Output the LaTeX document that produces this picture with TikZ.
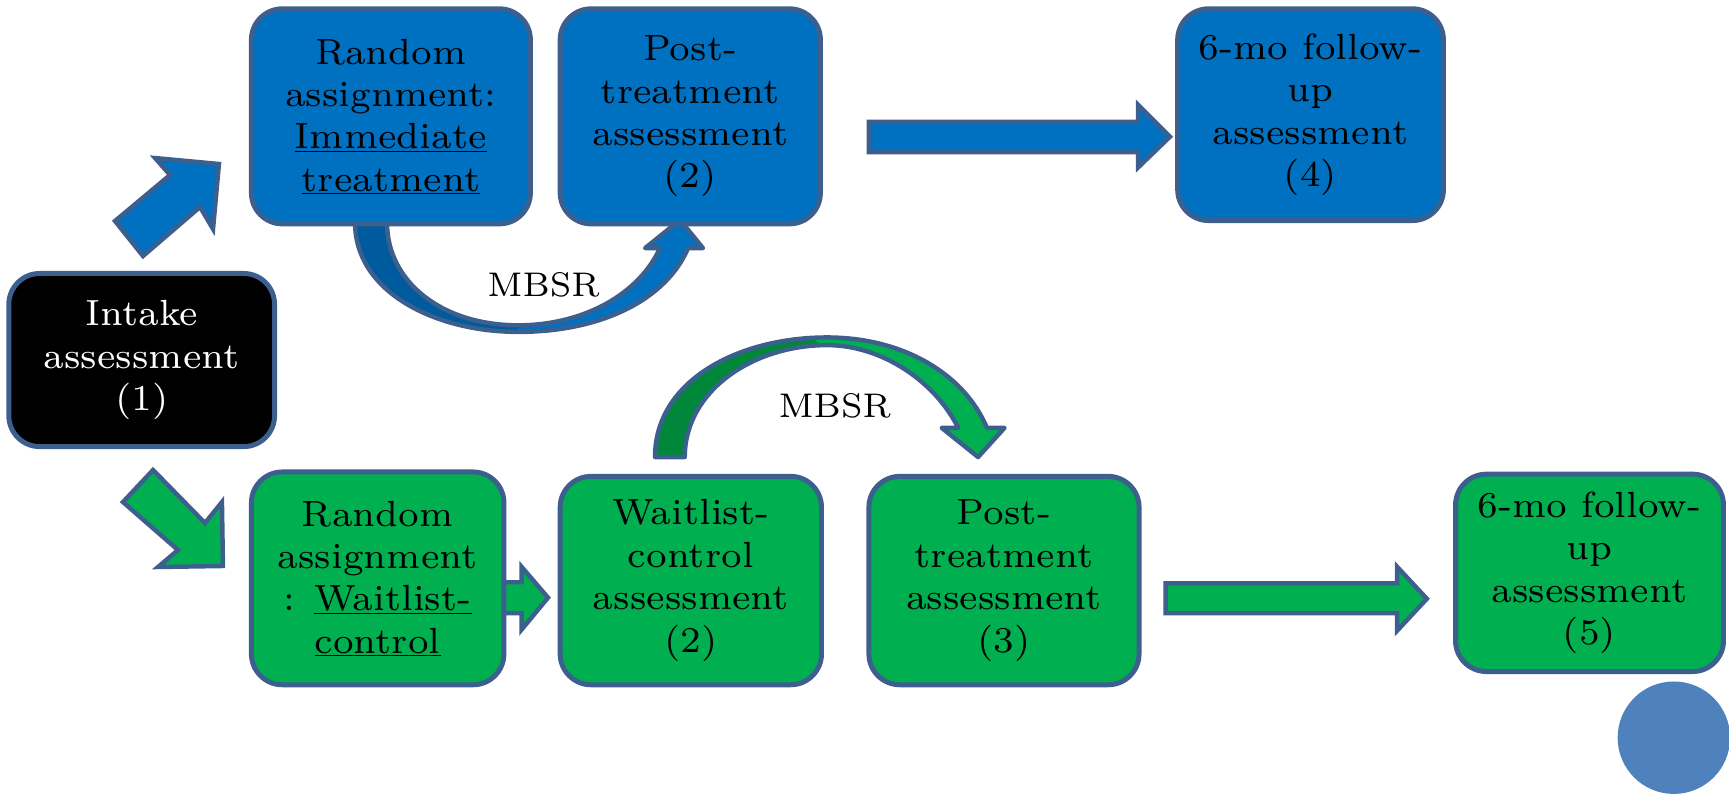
\documentclass[tikz,border=0pt]{standalone}
\usepackage{fontspec}
\setmainfont{lmroman7-regular.otf}
\usetikzlibrary{calc}
\definecolor{edgeblue}{HTML}{3C5F8E}
\definecolor{fillblue}{HTML}{0070C0}
\definecolor{shadeblue}{HTML}{005A9E}
\definecolor{fillgreen}{HTML}{00B050}
\definecolor{shadegreen}{HTML}{00873A}
\definecolor{dotblue}{HTML}{4F81BD}
\begin{document}
\begin{tikzpicture}[x=1pt,y=-1pt,
  stage/.style={draw=edgeblue, line width=4.5pt, rounded corners=28pt,
    align=center, inner sep=0pt, font=\fontsize{33}{38.5}\selectfont},
  bluestage/.style={stage, fill=fillblue},
  greenstage/.style={stage, fill=fillgreen},
  blockarrow/.style={draw=edgeblue, line width=4pt, line join=miter},
  bentarrow/.style={draw=edgeblue, line width=4pt, line join=round},
  lbl/.style={font=\fontsize{31}{36}\selectfont}
]
\useasboundingbox (0,0) rectangle (1568,721);

% outline of the U-shaped MBSR arrow (immediate-treatment arm)
\def\upturn{(322,196) -- (322,202)
  .. controls (322,265) and (395,301) .. (470,301)
  .. controls (545,301) and (604,272) .. (624,225)
  -- (637.5,225) -- (616.7,199.5) -- (585,225) -- (598.5,225)
  .. controls (580,266) and (530,295) .. (470,295)
  .. controls (400,295) and (351,255) .. (351,202) -- (351,196) -- cycle}
\fill[fillblue] \upturn;
\begin{scope}
  \clip \upturn;
  \fill[shadeblue] (300,190) -- (300,315) -- (440,315) -- (492,285) -- (492,190) -- cycle;
\end{scope}
\draw[bentarrow] \upturn;
\node[lbl] (mbsrA) at (493,258) {MBSR};

% outline of the arched MBSR arrow (waitlist arm)
\def\overarch{(594,414.5)
  .. controls (594,345) and (670,306) .. (750,306)
  .. controls (820,306) and (875,340) .. (895,388)
  -- (911,388) -- (887,414.5) -- (854,388) -- (869,388)
  .. controls (848,346) and (800,313) .. (750,313)
  .. controls (682,313) and (621,355) .. (621,414.5) -- cycle}
\fill[fillgreen] \overarch;
\begin{scope}
  \clip \overarch;
  \fill[shadegreen] (580,425) -- (580,290) -- (716,290) -- (760,325) -- (760,425) -- cycle;
\end{scope}
\draw[bentarrow] \overarch;
\node[lbl] (mbsrB) at (757,368) {MBSR};

% straight block arrows
\draw[blockarrow, fill=fillblue] (104.3,200.4) -- (154.2,158.7) -- (140.6,143.3)
  -- (198.6,148.7) -- (193.2,207.7) -- (181.4,187.7) -- (129.7,232.2) -- cycle;
\draw[blockarrow, fill=fillgreen] (138.8,426.2) -- (185.9,474.3) -- (201.3,455.3)
  -- (202.2,513.3) -- (143.3,514.2) -- (161.4,498.8) -- (111.5,455.3) -- cycle;
\draw[blockarrow, fill=fillblue] (788,110.5) -- (1032,110.5) -- (1032,95)
  -- (1061,124) -- (1032,152) -- (1032,138) -- (788,138) -- cycle;
\draw[blockarrow, fill=fillgreen] (1057,529) -- (1267,529) -- (1267,514)
  -- (1294,543) -- (1267,572) -- (1267,556) -- (1057,556) -- cycle;
\draw[blockarrow, fill=fillgreen] (450,528) -- (473,528) -- (473,514)
  -- (497,542) -- (473,571) -- (473,556) -- (450,556) -- cycle;

% stages
\node[stage, fill=black, text=white, minimum width=241pt, minimum height=157pt]
  (intake) at (128.5,326.5) {Intake\\assessment\\(1)};
\node[bluestage, minimum width=253pt, minimum height=195pt] (imm) at (354.5,105.5)
  {Random\\assignment:\\\underline{Immediate}\\\underline{treatment}};
\node[bluestage, minimum width=236pt, minimum height=195pt] (postA) at (626,105.5)
  {Post-\\treatment\\assessment\\(2)};
\node[bluestage, minimum width=241pt, minimum height=192pt] (followA) at (1188.5,104)
  {6-mo follow-\\up\\assessment\\(4)};
\node[greenstage, minimum width=229pt, minimum height=193pt] (wait) at (342.5,524.5)
  {Random\\assignment\\: \underline{Waitlist-}\\\underline{control}};
\node[greenstage, minimum width=237pt, minimum height=189pt] (waitA) at (626.5,526.5)
  {Waitlist-\\control\\assessment\\(2)};
\node[greenstage, minimum width=245pt, minimum height=189pt] (postB) at (910.5,526.5)
  {Post-\\treatment\\assessment\\(3)};
\node[greenstage, minimum width=243pt, minimum height=179pt] (followB) at (1441.5,519.5)
  {6-mo follow-\\up\\assessment\\(5)};

% corner dot
\fill[dotblue] (1518,669) circle (51pt);
\end{tikzpicture}
\end{document}
